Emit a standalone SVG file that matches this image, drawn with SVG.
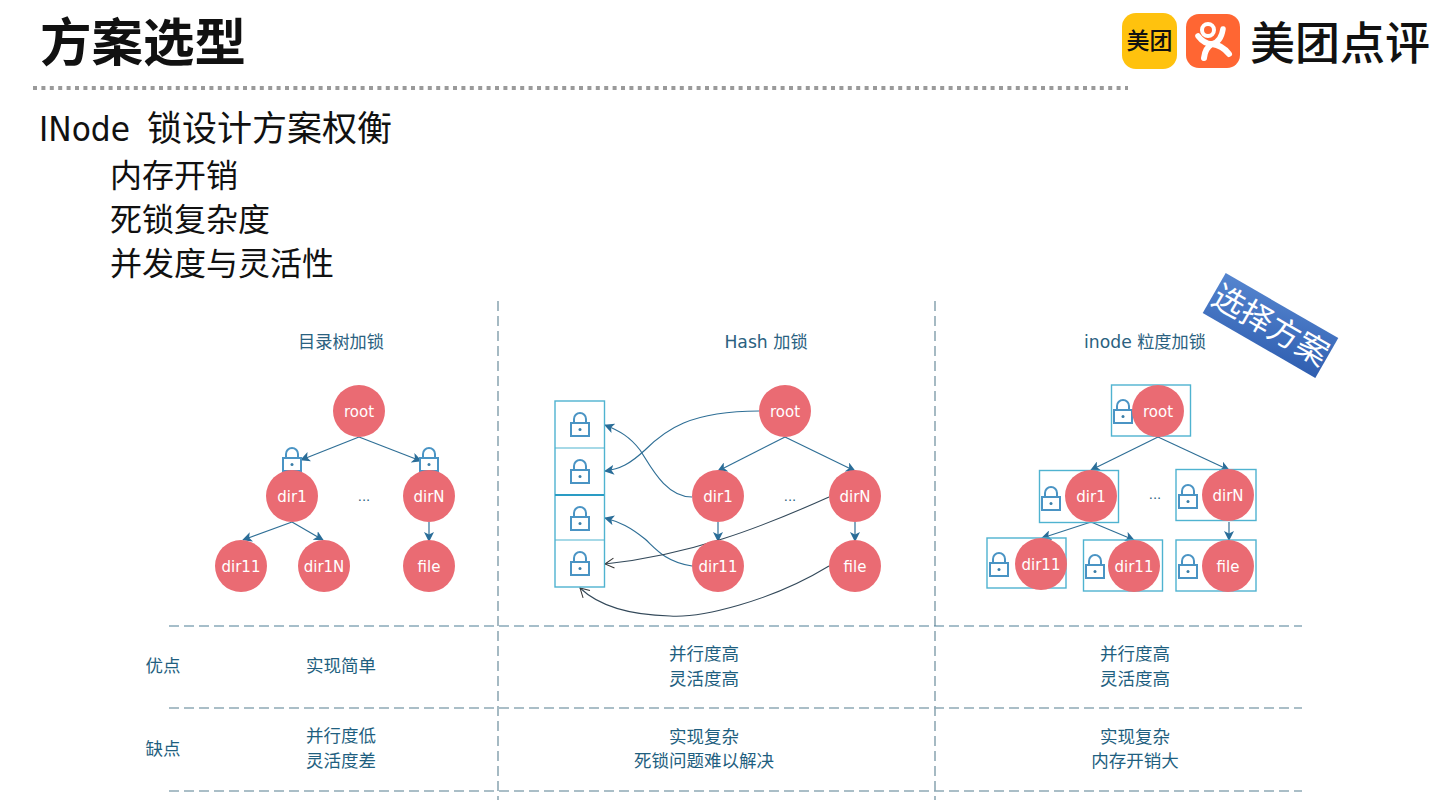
<svg xmlns="http://www.w3.org/2000/svg" width="1440" height="810" viewBox="0 0 1440 810">
<style>
text{font-family:"DejaVu Sans","Noto Sans CJK SC",sans-serif}
.h{font-family:"Noto Sans CJK SC",sans-serif;font-size:32px;fill:#111}
.lbl{font-size:17.500px;fill:#1f5f80;text-anchor:middle;font-family:"Noto Sans CJK SC",sans-serif}
.hd{font-size:17.200px;fill:#2a6180;text-anchor:middle}
.n circle{fill:#ea6b73}
.n text{font-size:15px;fill:#fff;text-anchor:middle}
.box{fill:none;stroke:#4fb3d0;stroke-width:1.400}
.dots{font-size:13px;fill:#2a6180;text-anchor:middle}
.dash{stroke:#8fa9b5;stroke-width:1.600;stroke-dasharray:10 5;fill:none}
.e{fill:none;stroke:#2f6f96;stroke-width:1.200}
.b{fill:none;stroke:#33495a;stroke-width:1.100}
</style>
<defs>
<marker id="a" markerWidth="11" markerHeight="10" refX="9" refY="5" orient="auto" markerUnits="userSpaceOnUse"><path d="M0 0L10 5L0 10L2.500 5Z" fill="#2a6d98"/></marker>
<marker id="o" markerWidth="11" markerHeight="12" refX="10" refY="6" orient="auto" markerUnits="userSpaceOnUse"><path d="M1 1L10 6L1 11" fill="none" stroke="#333" stroke-width="1"/></marker>
<g id="lock"><rect x="-9" y="-3" width="18" height="13" fill="#fff" stroke="#4a94c4" stroke-width="2"/><path d="M-6-3V-7a6 6 0 0 1 12 0V-3" fill="none" stroke="#4a94c4" stroke-width="2"/><circle cx="0" cy="3.500" r="1.500" fill="#3a7ea8"/></g>
<linearGradient id="bn" x1="0" y1="0" x2="1" y2="1"><stop offset="0" stop-color="#5585cf"/><stop offset="1" stop-color="#2f5eb0"/></linearGradient>
</defs>
<rect width="1440" height="810" fill="#fff"/>

<text x="40" y="61" font-size="51.500" font-weight="700" fill="#111" style="font-family:'Noto Sans CJK SC',sans-serif">方案选型</text>
<path d="M33 88H1128" stroke="#9a9a9a" stroke-width="4" stroke-dasharray="4 4.400" fill="none"/>

<g id="logo">
<rect x="1122" y="13" width="55" height="56" rx="14" fill="#ffc20e"/>
<text x="1149.500" y="49" font-size="23" font-weight="500" fill="#111" text-anchor="middle" style="font-family:'Noto Sans CJK SC',sans-serif">美团</text>
<rect x="1186" y="14" width="54" height="54" rx="13" fill="#ff6633"/>
<circle cx="1208" cy="30" r="6" fill="none" stroke="#fff" stroke-width="4"/>
<path d="M1198 36Q1204 44 1212 44Q1221 42 1223 29" fill="none" stroke="#fff" stroke-width="5.500" stroke-linecap="round"/>
<path d="M1204 58Q1205 48 1212 44Q1222 45 1229 54" fill="none" stroke="#fff" stroke-width="6" stroke-linecap="round"/>
<text x="1250" y="60" font-size="45" font-weight="500" fill="#111" style="font-family:'Noto Sans CJK SC',sans-serif">美团点评</text>
</g>

<text x="39" y="141" font-size="34" fill="#111" textLength="91" lengthAdjust="spacingAndGlyphs">INode</text>
<text x="147" y="141" font-size="35" fill="#111" style="font-family:'Noto Sans CJK SC',sans-serif">锁设计方案权衡</text>
<text class="h" x="110" y="187">内存开销</text>
<text class="h" x="110" y="231">死锁复杂度</text>
<text class="h" x="110" y="275">并发度与灵活性</text>

<g id="grid">
<path class="dash" d="M498 301V800M935 301V800"/>
<path class="dash" style="stroke:#4f7f96;stroke-width:1.100" d="M169 626H1302"/>
<path class="dash" d="M169 708H1302M169 791H1302"/>
</g>

<text class="hd" x="341" y="348">目录树加锁</text>
<text class="hd" x="766" y="348">Hash 加锁</text>
<text class="hd" x="1145" y="348">inode 粒度加锁</text>

<g id="connectors">
<path class="e" marker-end="url(#a)" d="M359 437L301 460"/>
<path class="e" marker-end="url(#a)" d="M359 437L421 461"/>
<path class="e" marker-end="url(#a)" d="M292 522L243 540"/>
<path class="e" marker-end="url(#a)" d="M292 522L323 540"/>
<path class="e" marker-end="url(#a)" d="M429 522V541"/>
<path class="e" marker-end="url(#a)" d="M785 437L718 471"/>
<path class="e" marker-end="url(#a)" d="M785 437L855 471"/>
<path class="e" marker-end="url(#a)" d="M718 522V541"/>
<path class="e" marker-end="url(#a)" d="M855 522V541"/>
<path class="e" marker-end="url(#a)" d="M759 411C690 411 665 430 645 450C630 464 620 469 605 471"/>
<path class="e" marker-end="url(#a)" d="M692 497C665 497 650 465 640 450C630 437 620 431 605 425"/>
<path class="e" marker-end="url(#a)" d="M692 566C665 562 655 548 645 539C630 527 620 522 605 518"/>
<path class="b" marker-end="url(#o)" d="M829 497C760 528 690 555 605 564"/>
<path class="b" marker-end="url(#o)" d="M829 566C770 602 700 618 670 616C630 615 600 607 580 588"/>
<path class="e" marker-end="url(#a)" d="M1158 437L1091 470"/>
<path class="e" marker-end="url(#a)" d="M1158 437L1229 470"/>
<path class="e" marker-end="url(#a)" d="M1091 522L1042 538"/>
<path class="e" marker-end="url(#a)" d="M1091 522L1134 540"/>
<path class="e" marker-end="url(#a)" d="M1229 522V540"/>
</g>

<g id="t1-locks"><use href="#lock" x="292" y="461"/><use href="#lock" x="429" y="461"/></g>
<g id="t1" class="n">
<g id="t1-root"><circle cx="359" cy="411" r="26"/><text x="359" y="417">root</text></g>
<g id="t1-dir1"><circle cx="292" cy="496" r="26"/><text x="292" y="502">dir1</text></g>
<g id="t1-dirN"><circle cx="429" cy="496" r="26"/><text x="429" y="502">dirN</text></g>
<g id="t1-dir11"><circle cx="241" cy="566" r="26"/><text x="241" y="572">dir11</text></g>
<g id="t1-dir1N"><circle cx="324" cy="566" r="26"/><text x="324" y="572">dir1N</text></g>
<g id="t1-file"><circle cx="429" cy="566" r="26"/><text x="429" y="572">file</text></g>
</g>
<text class="dots" x="364" y="501">...</text>

<g id="hash">
<rect class="box" x="555" y="401" width="49.500" height="186"/>
<path d="M555 448H604M555 540H604" stroke="#4fb3d0" stroke-width="1.200"/><path d="M555 495H604" stroke="#2a9cc4" stroke-width="2"/>
<use href="#lock" x="580" y="426"/><use href="#lock" x="580" y="473"/><use href="#lock" x="580" y="520"/><use href="#lock" x="580" y="565"/>
</g>
<g id="t2" class="n">
<g id="t2-root"><circle cx="785" cy="411" r="26"/><text x="785" y="417">root</text></g>
<g id="t2-dir1"><circle cx="718" cy="496" r="26"/><text x="718" y="502">dir1</text></g>
<g id="t2-dirN"><circle cx="855" cy="496" r="26"/><text x="855" y="502">dirN</text></g>
<g id="t2-dir11"><circle cx="718" cy="566" r="26"/><text x="718" y="572">dir11</text></g>
<g id="t2-file"><circle cx="855" cy="566" r="26"/><text x="855" y="572">file</text></g>
</g>
<text class="dots" x="790" y="501">...</text>

<g id="t3" class="n">
<g id="t3-root"><rect class="box" x="1111.500" y="385" width="79" height="51"/><use href="#lock" x="1123" y="413"/><circle cx="1158" cy="411" r="26"/><text x="1158" y="417">root</text></g>
<g id="t3-dir1"><rect class="box" x="1039.500" y="470.500" width="79" height="52"/><use href="#lock" x="1051" y="500"/><circle cx="1091" cy="496" r="26"/><text x="1091" y="502">dir1</text></g>
<g id="t3-dirN"><rect class="box" x="1176" y="469.500" width="80" height="51"/><use href="#lock" x="1188" y="498"/><circle cx="1228" cy="495" r="26"/><text x="1228" y="501">dirN</text></g>
<g id="t3-dir11a"><rect class="box" x="987" y="538" width="79" height="50"/><use href="#lock" x="999" y="566"/><circle cx="1041" cy="564" r="26"/><text x="1041" y="570">dir11</text></g>
<g id="t3-dir11b"><rect class="box" x="1083.500" y="540" width="79" height="51"/><use href="#lock" x="1095" y="568"/><circle cx="1134" cy="566" r="26"/><text x="1134" y="572">dir11</text></g>
<g id="t3-file"><rect class="box" x="1176" y="540" width="80" height="51"/><use href="#lock" x="1188" y="568"/><circle cx="1228" cy="566" r="26"/><text x="1228" y="572">file</text></g>
</g>
<text class="dots" x="1155" y="499">...</text>

<g id="stamp" transform="translate(1270.500 325.500) rotate(30)">
<rect x="-65" y="-23" width="130" height="46" fill="url(#bn)"/>
<text x="0" y="11" font-size="32" fill="#fff" text-anchor="middle" style="font-family:'Noto Sans CJK SC',sans-serif">选择方案</text>
</g>

<g id="table">
<text class="lbl" x="163" y="672">优点</text>
<text class="lbl" x="163" y="755">缺点</text>
<text class="lbl" x="341" y="672">实现简单</text>
<text class="lbl" x="704" y="660">并行度高</text><text class="lbl" x="704" y="685">灵活度高</text>
<text class="lbl" x="1135" y="660">并行度高</text><text class="lbl" x="1135" y="685">灵活度高</text>
<text class="lbl" x="341" y="742">并行度低</text><text class="lbl" x="341" y="767">灵活度差</text>
<text class="lbl" x="704" y="743">实现复杂</text><text class="lbl" x="704" y="767">死锁问题难以解决</text>
<text class="lbl" x="1135" y="743">实现复杂</text><text class="lbl" x="1135" y="767">内存开销大</text>
</g>
</svg>
